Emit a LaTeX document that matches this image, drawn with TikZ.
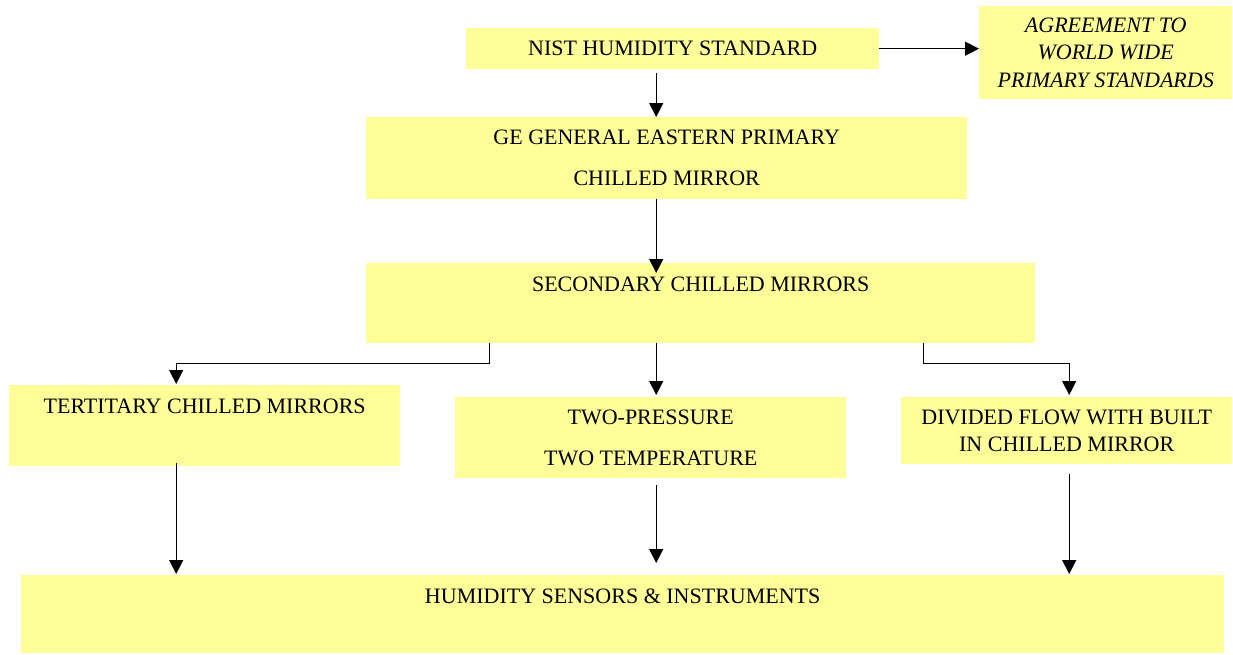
\documentclass[tikz,border=0pt]{standalone}
\usepackage{fontspec}
\setmainfont{Liberation Serif}
\usetikzlibrary{arrows.meta,positioning}
\definecolor{paleyellow}{HTML}{FFFF99}

\begin{document}
\begin{tikzpicture}[x=1pt,y=-1pt,
    box/.style={fill=paleyellow, inner sep=0pt, anchor=north west, align=center,
                font=\fontsize{22}{27.5}\selectfont},
    widelines/.style={font=\fontsize{22}{41}\selectfont},
    flow/.style={-{Triangle[length=14pt,width=14pt]}, line width=1.3pt}]
    \useasboundingbox (0,0) rectangle (1233,654);

    \node[box, minimum width=413, minimum height=41] (nist) at (466,28) {NIST HUMIDITY STANDARD};
    \node[box, minimum width=253, minimum height=93,
          font=\fontsize{22}{27.5}\selectfont\itshape] (agree) at (979,6)
          {AGREEMENT TO\\WORLD WIDE\\PRIMARY STANDARDS};
    \node[box, widelines, minimum width=601, minimum height=82] (ge) at (366,117)
          {GE GENERAL EASTERN PRIMARY\\CHILLED MIRROR};
    \node[box, minimum width=669, text height=28.3pt, text depth=51.7pt] (second) at (366,263)
          {SECONDARY CHILLED MIRRORS};
    \node[box, minimum width=391, text height=27.8pt, text depth=53.2pt] (tert) at (9,385)
          {TERTITARY CHILLED MIRRORS};
    \node[box, widelines, minimum width=391, minimum height=81] (twop) at (455,397)
          {TWO-PRESSURE\\TWO TEMPERATURE};
    \node[box, minimum width=331, minimum height=67] (divided) at (901,397)
          {DIVIDED FLOW WITH BUILT\\IN CHILLED MIRROR};
    \node[box, minimum width=1203, text height=28.3pt, text depth=49.7pt] (sensors) at (21,575)
          {HUMIDITY SENSORS \& INSTRUMENTS};

    \draw[flow] (nist.east) -- (nist.east -| agree.west);
    \draw[flow, shorten <=4pt] ([xshift=-16.5pt]nist.south) -- ([xshift=-16.5pt]nist.south |- ge.north);
    \draw[flow, shorten >=-10pt] ([xshift=-10.5pt]ge.south) -- ([xshift=-10.5pt]ge.south |- second.north);
    \draw[flow, shorten >=2pt] ([xshift=-44.5pt]second.south) -- ([xshift=-44.5pt]second.south |- twop.north);
    \draw[flow, shorten >=1pt] ([xshift=-211.5pt]second.south) -- ++(0,20) -| ([xshift=-28.5pt]tert.north);
    \draw[flow, shorten >=2pt] ([xshift=222.5pt]second.south) -- ++(0,20) -| ([xshift=2.5pt]divided.north);
    \draw[flow, shorten <=-3pt, shorten >=1pt] ([xshift=-28.5pt]tert.south) -- ([xshift=-28.5pt]tert.south |- sensors.north);
    \draw[flow, shorten <=7pt, shorten >=12pt] ([xshift=5.5pt]twop.south) -- ([xshift=5.5pt]twop.south |- sensors.north);
    \draw[flow, shorten <=10pt, shorten >=1pt] ([xshift=2.5pt]divided.south) -- ([xshift=2.5pt]divided.south |- sensors.north);
\end{tikzpicture}
\end{document}
